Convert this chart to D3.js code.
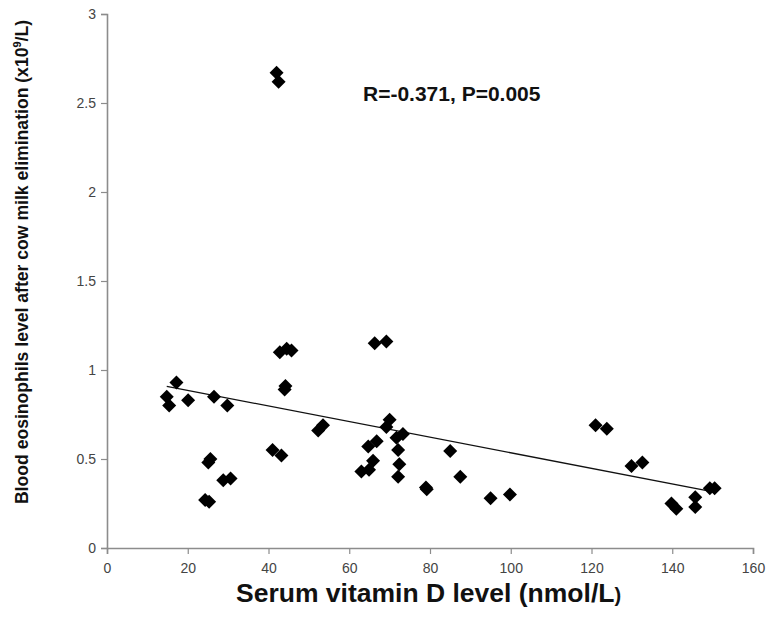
<!DOCTYPE html>
<html>
<head>
<meta charset="utf-8">
<script src="https://cdn.jsdelivr.net/npm/d3@7"></script>
<style>
  html, body { margin: 0; padding: 0; background: #fff; }
  svg { display: block; }
</style>
</head>
<body>
<svg id="chart" width="769" height="622"></svg>
<script>
// Serum vitamin D level (nmol/L)
const vitaminD = [42.0, 42.5, 17.2, 14.8, 15.4, 20.1, 26.5, 29.8, 25.1, 25.6, 28.8, 30.6, 24.3, 25.3,
  42.8, 44.5, 45.7, 44.2, 44.0, 41.0, 43.2, 52.3, 53.5, 66.3, 69.2, 70.0, 69.2, 73.3, 71.7, 66.8,
  64.7, 65.9, 64.9, 63.0, 72.1, 72.4, 72.1, 79.0, 79.2, 85.0, 87.5, 95.0, 99.8, 121.0, 123.8,
  129.9, 132.6, 149.3, 150.5, 145.7, 145.7, 139.8, 141.0];
// Blood eosinophils level after cow milk elimination (x10^9/L)
const eosinophils = [2.67, 2.62, 0.93, 0.85, 0.80, 0.83, 0.85, 0.80, 0.48, 0.50, 0.38, 0.39, 0.27, 0.26,
  1.10, 1.12, 1.11, 0.91, 0.89, 0.55, 0.52, 0.66, 0.69, 1.15, 1.16, 0.72, 0.68, 0.64, 0.62, 0.60,
  0.57, 0.49, 0.44, 0.43, 0.55, 0.47, 0.40, 0.34, 0.33, 0.545, 0.40, 0.28, 0.30, 0.69, 0.67,
  0.46, 0.48, 0.335, 0.335, 0.285, 0.23, 0.25, 0.22];
// Linear trend line end points
const trendX = [14.8, 150.5];
const trendY = [0.908, 0.314];
const xTicks = [0, 20, 40, 60, 80, 100, 120, 140, 160];
const yTicks = [0, 0.5, 1, 1.5, 2, 2.5, 3];
const annotation = "R=-0.371, P=0.005";

const svg = d3.select("#chart");
const x = d3.scaleLinear().domain([0, 160]).range([107, 753]);
const y = d3.scaleLinear().domain([0, 3]).range([548, 14]);
const axisColor = "#8c8c8c";
const font = "'Liberation Sans', Arial, sans-serif";

const xAxis = svg.append("g").attr("transform", `translate(0,${y(0)})`)
  .call(d3.axisBottom(x).tickValues(xTicks).tickSize(6).tickPadding(9).tickFormat(d3.format("d")));
const yAxis = svg.append("g").attr("transform", `translate(${x(0)},0)`)
  .call(d3.axisLeft(y).tickValues(yTicks).tickSize(6).tickPadding(5).tickFormat(d => String(d)));
[xAxis, yAxis].forEach(g => {
  g.select(".domain").attr("stroke", axisColor).attr("stroke-width", 1.6);
  g.selectAll(".tick line").attr("stroke", axisColor).attr("stroke-width", 1.2);
  g.selectAll(".tick text").attr("fill", "#444").attr("font-family", font).attr("font-size", 14);
});

// trend line
svg.append("line")
  .attr("x1", x(trendX[0])).attr("y1", y(trendY[0]))
  .attr("x2", x(trendX[1])).attr("y2", y(trendY[1]))
  .attr("stroke", "#111").attr("stroke-width", 1.3);

// diamonds
const r = 7;
svg.append("g").selectAll("path").data(vitaminD.map((v, i) => [v, eosinophils[i]]))
  .join("path")
  .attr("transform", d => `translate(${x(d[0])},${y(d[1])})`)
  .attr("d", `M0,${-r}L${r},0L0,${r}L${-r},0Z`)
  .attr("fill", "#000");

// annotation
svg.append("text").attr("x", 363).attr("y", 101)
  .attr("font-family", font).attr("font-weight", "bold").attr("font-size", 21)
  .attr("fill", "#111").text(annotation);

// x title
const xt = svg.append("text").attr("x", 236).attr("y", 602)
  .attr("font-family", font).attr("font-weight", "bold").attr("font-size", 26.5).attr("fill", "#111");
xt.append("tspan").text("Serum vitamin D level (nmol/L");
xt.append("tspan").attr("font-size", 20).text(")");

// y title
const yt = svg.append("text").attr("transform", "translate(28,262) rotate(-90)")
  .attr("text-anchor", "middle")
  .attr("font-family", font).attr("font-weight", "bold").attr("font-size", 17.6).attr("fill", "#111");
yt.append("tspan").text("Blood eosinophils level after cow milk  elimination (x10");
yt.append("tspan").attr("font-size", 11).attr("dy", -7).text("9");
yt.append("tspan").attr("dy", 7).text("/L)");
</script>
</body>
</html>
